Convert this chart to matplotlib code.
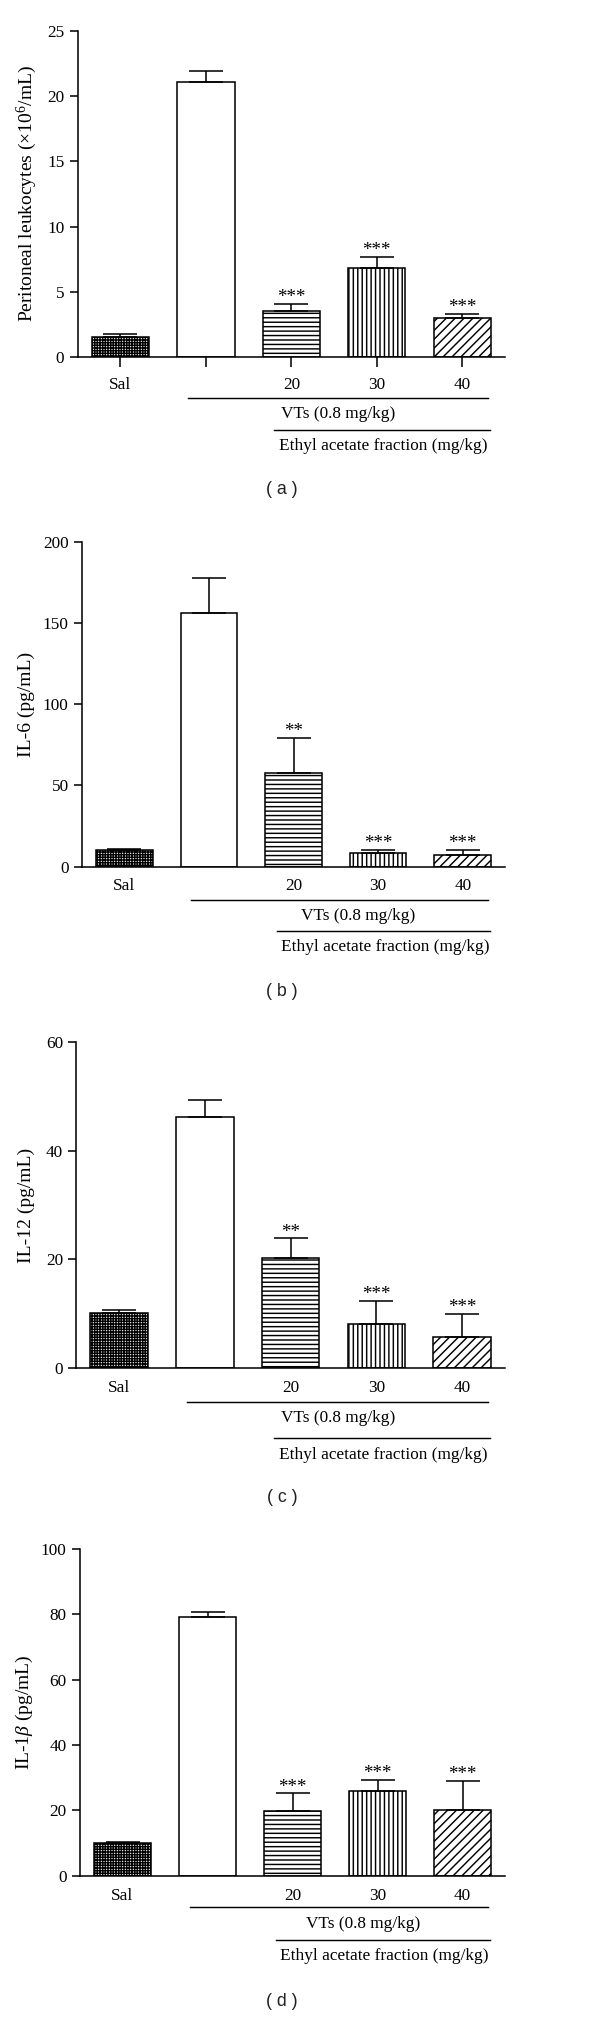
import numpy as np
import matplotlib.pyplot as plt
import matplotlib.transforms as mtransforms

groups = ['Sal', '', '20', '30', '40']
hatches = ['+++++', '', '---', '|||', '///']

leuko_mean = [1.5, 21.1, 3.5, 6.85, 3.0]
leuko_err = [0.3, 0.82, 0.56, 0.84, 0.3]
leuko_stars = ['', '', '***', '***', '***']

il6_mean = [10.3, 156.3, 57.8, 8.2, 7.0]
il6_err = [0.4, 21.5, 21.4, 2.3, 3.5]
il6_stars = ['', '', '**', '***', '***']

il12_mean = [10.1, 46.3, 20.3, 8.1, 5.8]
il12_err = [0.55, 3.0, 3.6, 4.3, 4.2]
il12_stars = ['', '', '**', '***', '***']

il1b_mean = [10.1, 79.1, 19.8, 25.9, 20.1]
il1b_err = [0.3, 1.5, 5.4, 3.4, 8.9]
il1b_stars = ['', '', '***', '***', '***']

DPI = 80
W, H = 600, 2019

plt.rcParams['font.family'] = ['Liberation Serif', 'DejaVu Serif']
plt.rcParams['mathtext.fontset'] = 'custom'
plt.rcParams['mathtext.rm'] = 'Liberation Serif'
plt.rcParams['mathtext.it'] = 'Liberation Serif:italic'
plt.rcParams['hatch.linewidth'] = 1.3

fig = plt.figure(figsize=(W / DPI, H / DPI), dpi=DPI)

# layout per panel, in pixels: axes box, y label x, tick length, tick pad,
# offsets below the axis for line1 / VTs / line2 / Ethyl text, caption y, VTs x
panels = [
    dict(mean=leuko_mean, err=leuko_err, stars=leuko_stars, ymax=25, step=5,
         label='Peritoneal leukocytes (×10$^{6}$/mL)', cap='( a )',
         box=(77.7, 31, 505, 357), ylab_x=39, tlen=9, tpad=9,
         offs=(40.5, 57, 73, 89), cap_y=489, vts_x=2.55),
    dict(mean=il6_mean, err=il6_err, stars=il6_stars, ymax=200, step=50,
         label='IL-6 (pg/mL)', cap='( b )',
         box=(82, 541.7, 505, 866.7), ylab_x=35, tlen=0, tpad=10.2,
         offs=(33.3, 49.3, 64, 80), cap_y=991.7, vts_x=2.76),
    dict(mean=il12_mean, err=il12_err, stars=il12_stars, ymax=60, step=20,
         label='IL-12 (pg/mL)', cap='( c )',
         box=(76.3, 1042.3, 505, 1368), ylab_x=35, tlen=0, tpad=10.8,
         offs=(34, 50, 70, 87), cap_y=1497, vts_x=2.55),
    dict(mean=il1b_mean, err=il1b_err, stars=il1b_stars, ymax=100, step=20,
         label='IL-1$\\it{\\beta}$ (pg/mL)', cap='( d )',
         box=(80, 1549, 505, 1875.7), ylab_x=35, tlen=0, tpad=11,
         offs=(31.3, 48.3, 64.3, 80), cap_y=2001.7, vts_x=2.83),
]

x = np.arange(len(groups))

for p in panels:
    l, t, r, b = p['box']
    ax = fig.add_axes([l / W, 1 - b / H, (r - l) / W, (b - t) / H])
    bars = ax.bar(x, p['mean'], width=0.67, color='white', edgecolor='black',
                  linewidth=1.4, zorder=2)
    for bar, h in zip(bars, hatches):
        bar.set_hatch(h)
    ax.errorbar(x, p['mean'], yerr=[np.zeros(len(x)), p['err']], fmt='none',
                ecolor='black', elinewidth=1.4, capsize=15, capthick=1.4, zorder=3)
    for i, s in enumerate(p['stars']):
        if s:
            ax.annotate(s, (x[i], p['mean'][i] + p['err'][i]), xytext=(0, 1.5),
                        textcoords='offset points', ha='center', va='baseline',
                        fontsize=17)

    ax.set_xlim(-0.5, 4.5)
    ax.set_ylim(0, p['ymax'])
    ax.set_yticks(np.arange(0, p['ymax'] + 1, p['step']))
    ax.set_xticks(x, groups)
    for side in ['top', 'right']:
        ax.spines[side].set_visible(False)
    for side in ['left', 'bottom']:
        ax.spines[side].set_linewidth(1.4)
    ax.tick_params(axis='y', length=7, width=1.4, pad=5, labelsize=15.5)
    ax.tick_params(axis='x', length=p['tlen'], width=1.4, pad=p['tpad'], labelsize=15.5)

    ax.set_ylabel(p['label'], fontsize=17.5)
    ax.yaxis.label.set(rotation_mode='anchor', va='bottom', ha='center')
    ax.yaxis.set_label_coords(p['ylab_x'] / W, 0.5,
                              transform=mtransforms.blended_transform_factory(fig.transFigure, ax.transAxes))

    def below(dy):
        return ax.get_xaxis_transform() + mtransforms.ScaledTranslation(0, -dy / DPI, fig.dpi_scale_trans)

    o1, o2, o3, o4 = p['offs']
    ax.plot([0.79, 4.3], [0, 0], color='black', lw=1.3, transform=below(o1), clip_on=False)
    ax.text(p['vts_x'], 0, 'VTs (0.8 mg/kg)', transform=below(o2), ha='center', va='center',
            fontsize=15.5)
    ax.plot([1.8, 4.32], [0, 0], color='black', lw=1.3, transform=below(o3), clip_on=False)
    ax.text(3.08, 0, 'Ethyl acetate fraction (mg/kg)', transform=below(o4), ha='center',
            va='center', fontsize=15.5)

    fig.text(282 / W, 1 - p['cap_y'] / H, p['cap'], ha='center', va='center',
             family='Liberation Sans', fontsize=16, color='#222222')

fig.savefig('out.png', dpi=DPI)
